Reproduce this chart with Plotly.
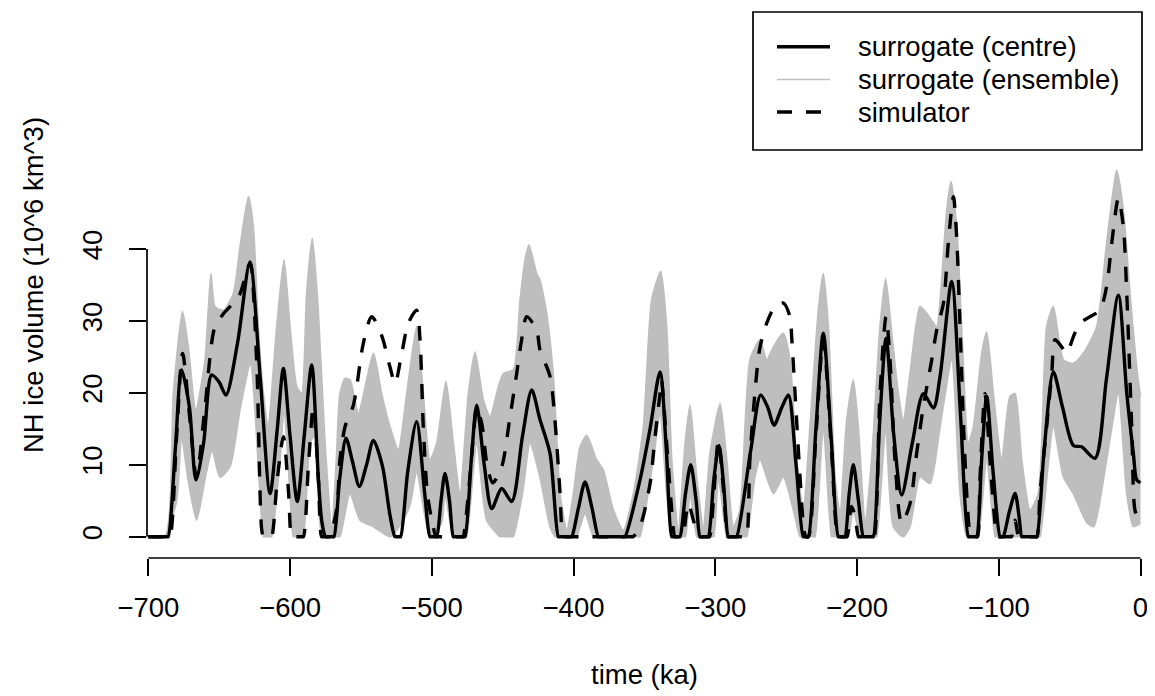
import plotly.graph_objects as go

# ---------------- data ----------------
# surrogate (centre): (time ka, NH ice volume)
centre_pts = [
    (-700, 0), (-699, 0), (-687, 0), (-686, 0), (-681, 12), (-676.5, 23.2), (-671, 18), (-666.4, 7.9),
    (-661, 13), (-655.3, 22.5), (-650, 21.5), (-645.2, 19.7), (-637, 27), (-628.3, 38.2), (-621, 22),
    (-614.1, 6.0), (-609, 15), (-604.7, 23.4), (-600, 14), (-594.9, 4.9), (-590, 14), (-584.7, 23.9),
    (-580, 8), (-577.5, 2), (-575, 0), (-574, 0), (-570, 0), (-569, 0), (-565, 8), (-560.5, 13.7),
    (-556, 10.5), (-551.1, 7.0), (-546, 10), (-541.2, 13.4), (-535, 10), (-529.5, 3), (-526, 0), (-525, 0),
    (-523, 0), (-522, 0), (-517, 9), (-510.7, 16.0), (-505, 6), (-501.3, 0), (-500.3, 0), (-497.5, 0),
    (-496.5, 0), (-493.5, 5), (-490.7, 8.8), (-487.5, 5), (-484.8, 0), (-483.8, 0), (-477.6, 0),
    (-476.6, 0), (-472, 11), (-468.3, 18.3), (-463, 10), (-457.7, 3.9), (-450.7, 6.7), (-443.6, 4.9),
    (-436, 14), (-429.5, 20.4), (-423.7, 16.3), (-416.6, 11.6), (-410.7, 0), (-409.7, 0), (-402.3, 0),
    (-401.3, 0), (-396.5, 4), (-391.9, 7.6), (-387, 4), (-382.5, 0), (-381.5, 0), (-364.7, 0), (-363.7, 0),
    (-353.1, 7.9), (-346, 15), (-339, 22.9), (-334.5, 12), (-330.7, 0), (-329.7, 0), (-325.9, 0),
    (-324.9, 0), (-321, 6), (-317.3, 10.0), (-313.5, 5), (-310.8, 0), (-309.8, 0), (-305.9, 0), (-304.9, 0),
    (-301, 8), (-297.4, 12.7), (-294, 7), (-290.8, 0), (-289.8, 0), (-285.9, 0), (-284.9, 0), (-275, 12),
    (-268, 19.7), (-263, 18), (-258.6, 15.5), (-253, 18), (-248.4, 19.7), (-243, 10), (-237.9, 0),
    (-236.9, 0), (-235.3, 0), (-234.3, 0), (-229, 15), (-223.8, 28.3), (-218, 13), (-213.2, 0), (-212.2, 0),
    (-209.5, 0), (-208.5, 0), (-205.5, 6), (-202.6, 10.0), (-199, 5), (-195.5, 0), (-194.5, 0), (-189.5, 0),
    (-188.5, 0), (-184, 16), (-179.5, 27.6), (-174, 14), (-168.5, 5.8), (-161, 13), (-153.2, 19.9),
    (-146.1, 17.9), (-141.4, 22.3), (-133.2, 35.5), (-127, 17), (-121.4, 0), (-120.4, 0), (-116.6, 0),
    (-115.6, 0), (-112, 11), (-108.5, 19.5), (-104, 9), (-99.1, 0), (-98.4, 0), (-97.5, 0), (-96.8, 0),
    (-92.5, 3.5), (-88.5, 6.0), (-85.5, 2.5), (-83.8, 0), (-82.8, 0), (-74.2, 0), (-73.2, 0), (-68, 12),
    (-61.5, 22.9), (-55, 18), (-47.4, 12.7), (-41.5, 12.5), (-32.1, 10.9), (-24, 22), (-15.6, 33.6),
    (-9.7, 20), (-5, 11.5), (-2.7, 7.9), (0, 7.5),
]

# simulator
sim_pts = [
    (-700, 0), (-699, 0), (-685.7, 0), (-684.7, 0), (-680, 14), (-675.8, 25.5), (-671, 17), (-666, 8.3),
    (-660, 18), (-653, 29.2), (-647, 31), (-640, 32.5), (-635.3, 33.8), (-629.4, 37.6), (-628, 38),
    (-623.5, 24.1), (-620, 1), (-618.8, 0), (-617.8, 0), (-614, 0), (-613, 0), (-609, 8), (-604.7, 13.9),
    (-601, 6), (-598.9, 0), (-597.9, 0), (-591.6, 0), (-590.6, 0), (-587, 10), (-583.6, 18.1), (-580, 8),
    (-577.7, 0), (-576.7, 0), (-573, 0), (-572, 0), (-567, 4), (-564.8, 10.7), (-561.2, 15.3),
    (-555.3, 18.3), (-548.3, 26.9), (-542.4, 30.6), (-535.4, 28.0), (-529.5, 23.6), (-525.9, 21.3),
    (-521.2, 25.5), (-516.5, 29.7), (-510.7, 31.5), (-508.3, 27.4), (-506, 15.3), (-503.1, 6.0),
    (-500, 2.3), (-497, 0), (-496, 0), (-479, 0), (-478, 0), (-474.2, 6.0), (-470.7, 13.9), (-468.3, 17.8),
    (-464.8, 15.8), (-461, 10), (-457, 7.5), (-450.7, 9.7), (-444.8, 16.7), (-440.1, 22.7), (-436.6, 27.4),
    (-433, 30.6), (-426, 28.7), (-423.7, 26), (-416.6, 22.3), (-413.1, 16.2), (-409.5, 6.0), (-407.7, 0.5),
    (-406, 0), (-405, 0), (-359, 0), (-358, 0), (-353.1, 1.4), (-346, 7.4), (-342.5, 13.9), (-339, 19.9),
    (-338, 21.8), (-334.3, 13), (-330.7, 3.7), (-328.5, 0), (-327.5, 0), (-324, 0), (-323, 0), (-319, 4.6),
    (-315, 2), (-311, 0), (-310, 0), (-305, 0), (-304, 0), (-301, 6), (-297.8, 13.4), (-294, 6), (-291, 0),
    (-290, 0), (-279, 0), (-278, 0), (-275.5, 11.1), (-270.8, 22.7), (-268.4, 26.4), (-263.7, 29.7),
    (-257.9, 32.0), (-252, 32.5), (-247.3, 30.6), (-246.1, 27.8), (-243.7, 19.9), (-240.2, 8.3),
    (-237.4, 0.9), (-236, 0), (-234.3, 0), (-229, 14), (-223.8, 27.4), (-218, 12), (-213.5, 0),
    (-212.5, 0), (-208, 0), (-207, 0), (-204, 4.2), (-201.5, 3), (-199, 0), (-198, 0), (-189, 0), (-188, 0),
    (-183.8, 19.9), (-179.5, 30.6), (-176.7, 24.6), (-173.2, 10.7), (-168.5, 1.9), (-162.6, 4.6),
    (-157.9, 11.6), (-153.2, 18.1), (-147.3, 24.6), (-143.8, 28.7), (-139, 32.5), (-135.6, 40.8),
    (-132, 47.3), (-129.7, 41.7), (-127.3, 29.2), (-123.8, 10.7), (-120.3, 0.5), (-119, 0), (-118, 0),
    (-116, 0), (-115, 0), (-113.2, 8.3), (-109.7, 19.9), (-106.2, 10.7), (-101.5, 0.5), (-100, 0), (-99, 0),
    (-92, 0), (-91, 0), (-88.5, 2.3), (-86, 0), (-85, 0), (-74, 0), (-73, 0), (-70.9, 6.0), (-66.2, 15.3),
    (-62.6, 22.7), (-60.3, 27.4), (-55.6, 26.4), (-52.1, 25.5), (-47.4, 27.8), (-42.7, 29.7), (-35.6, 30.6),
    (-28.6, 31.5), (-23.9, 34.8), (-20.3, 40.8), (-15.6, 47.1), (-12.1, 43.1), (-9.7, 33.8), (-6.2, 15.3),
    (-3.9, 3.7), (-1.5, 2.5), (0, 2.7),
]

# surrogate ensemble: upper and lower edges of the grey cloud
ens_upper_pts = [
    (-700, 0), (-688.2, 0), (-682.3, 19.9), (-675.8, 31.3), (-671.8, 26.4), (-666.5, 17.6), (-660, 24.6),
    (-655.8, 36.6), (-653, 32.0), (-647, 31.5), (-640, 33.8), (-635.3, 40.3), (-629.4, 47.3),
    (-625.9, 43.1), (-622.4, 29.2), (-618.8, 19.9), (-615.5, 15.5), (-609.4, 29.2), (-604.3, 38.5),
    (-600, 29.2), (-595.3, 20.9), (-591.8, 19.9), (-588.3, 33.8), (-584.3, 41.5), (-580.1, 31.5),
    (-575.3, 13.0), (-570.6, 1.4), (-567.5, 10), (-564.8, 19.9), (-561.2, 22.0), (-557.7, 21.8),
    (-551.8, 17.2), (-541.2, 25.5), (-535.4, 19.9), (-529.5, 15.3), (-523.6, 12.1), (-517.7, 19.9),
    (-510.7, 29.2), (-506, 19.9), (-501.3, 10.7), (-496.5, 13.0), (-490, 21.6), (-484.8, 13.0),
    (-480.1, 6.0), (-474.2, 19.9), (-469.5, 25.7), (-463.6, 19.0), (-458.9, 16.7), (-453, 20.9),
    (-449.5, 22.7), (-442.5, 23.2), (-437.7, 32.9), (-434.2, 38.5), (-431.4, 40.6), (-426, 36.6),
    (-423.7, 35.7), (-419, 31.1), (-414.2, 22.3), (-409.5, 6.0), (-404.8, 0.9), (-400.1, 6.0),
    (-395.4, 12.5), (-390.7, 14.1), (-383.7, 10.7), (-379, 9.3), (-371.9, 3.7), (-364.9, 0.9),
    (-357.8, 6.0), (-350.7, 15.3), (-344.9, 32.9), (-338.5, 36.9), (-334.3, 29.2), (-330.7, 10.7),
    (-326.1, 0.9), (-321.3, 13.0), (-317.8, 18.3), (-313.1, 8.3), (-308.4, 1.4), (-303.7, 11.6),
    (-296.6, 18.5), (-291.9, 10.7), (-287.2, 1.4), (-282.6, 3.7), (-275.5, 24.6), (-268.4, 27.4),
    (-263.7, 24.6), (-259, 26.4), (-252, 28.3), (-247.3, 24.6), (-242.6, 10.7), (-237.9, 3.7),
    (-233.2, 15.3), (-227.3, 31.5), (-223.8, 36.6), (-220.2, 29.2), (-215.5, 8.3), (-212, 3.2),
    (-207.3, 16.2), (-202.6, 21.8), (-199.1, 15.3), (-194.3, 2.3), (-189.7, 10.7), (-183.8, 29.2),
    (-179.8, 35.9), (-175.5, 28.3), (-170.8, 19.9), (-167.3, 16.2), (-162.6, 22.7), (-155.6, 32.0),
    (-150.9, 31.1), (-143.8, 29.2), (-141.4, 32.9), (-136.7, 45.4), (-133.7, 49.4), (-129.7, 43.1),
    (-126.2, 29.2), (-121.4, 13.0), (-117.9, 15.3), (-112, 25.5), (-108.5, 28.5), (-103.8, 19.9),
    (-97.9, 10.7), (-92.1, 19.5), (-88.5, 19.9), (-83.8, 10.7), (-77.9, 3.7), (-72.1, 6.0), (-66.2, 29.2),
    (-61.5, 32.0), (-54.4, 24.6), (-47.4, 24.1), (-40.3, 25.5), (-30.9, 29.2), (-23.9, 40.8),
    (-16.8, 51.0), (-12.1, 45.4), (-7.4, 33.8), (-2.7, 23.6), (0, 19.5),
]
ens_lower_pts = [
    (-700, 0), (-699, 0), (-689, 0), (-688, 0), (-680, 5), (-676.5, 14), (-672, 8), (-665.9, 2.3),
    (-660, 8), (-655, 12), (-649.4, 8.3), (-642.4, 9.7), (-635, 18), (-628, 24), (-621.2, 6.0),
    (-618.8, 0), (-617.8, 0), (-614, 0), (-613, 0), (-607.1, 10.7), (-604.3, 17.6), (-600, 6.0),
    (-597.7, 0), (-596.7, 0), (-591.6, 0), (-590.6, 0), (-585.9, 13.0), (-583, 14), (-580.1, 6.0),
    (-577.7, 0), (-576.7, 0), (-565.8, 0), (-564.8, 0), (-557.7, 6.0), (-550.6, 2.3), (-541.2, 1.4),
    (-529, 0), (-516, 4), (-510.7, 9), (-505, 3), (-501.3, 0), (-493, 2), (-490.7, 6.0), (-487, 2),
    (-483.6, 0), (-482.6, 0), (-476.4, 0), (-475.4, 0), (-468.3, 13.0), (-461.3, 2.3), (-451.9, 0),
    (-450.9, 0), (-443.5, 0), (-442.5, 0), (-436, 6), (-430.7, 13.0), (-423.7, 8.3), (-416.6, 1.4),
    (-413, 0), (-412, 0), (-398.8, 0), (-397.8, 0), (-391.9, 3.2), (-386, 0), (-385, 0), (-354.1, 0),
    (-353.1, 0), (-343.7, 10.7), (-339, 17.2), (-334.3, 6.0), (-330.5, 0), (-329.5, 0), (-322, 0),
    (-321, 0), (-317.8, 6.0), (-313, 0), (-312, 0), (-302, 0), (-301, 0), (-297.8, 8.3), (-292, 0),
    (-291, 0), (-278.8, 0), (-277.8, 0), (-272, 8.3), (-268.4, 10.7), (-259, 6.0), (-252, 8.3),
    (-244.9, 3.7), (-240.2, 0), (-239.2, 0), (-230.6, 0), (-229.6, 0), (-223.8, 15.3), (-217.9, 0),
    (-216.9, 0), (-207.1, 0), (-206.1, 0), (-202.6, 3.7), (-197.9, 0), (-196.9, 0), (-187.1, 0),
    (-186.1, 0), (-179.8, 15.3), (-174.4, 1.4), (-167.3, 0), (-162.6, 1.4), (-155.6, 8.3), (-148.5, 7.4),
    (-141.4, 15.3), (-133.2, 24.6), (-127.3, 6.0), (-122.6, 0), (-121.6, 0), (-115.4, 0), (-114.4, 0),
    (-108.5, 10.7), (-102.6, 0), (-101.6, 0), (-71.9, 0), (-70.9, 0), (-61.5, 15.3), (-54.4, 8.3),
    (-47.4, 6.0), (-38, 2), (-33, 1.4), (-23.9, 10.7), (-15.6, 19.9), (-9.7, 6.0), (-5, 1.4), (0, 1.9),
]

centre_t = [p[0] for p in centre_pts]
centre_v = [p[1] for p in centre_pts]
sim_t = [p[0] for p in sim_pts]
sim_v = [p[1] for p in sim_pts]
ens_upper_t = [p[0] for p in ens_upper_pts]
ens_upper_v = [p[1] for p in ens_upper_pts]
ens_lower_t = [p[0] for p in ens_lower_pts]
ens_lower_v = [p[1] for p in ens_lower_pts]

x_tick_vals = [-700, -600, -500, -400, -300, -200, -100, 0]
x_tick_text = ["\u2212700", "\u2212600", "\u2212500", "\u2212400", "\u2212300", "\u2212200", "\u2212100", "0"]
y_tick_vals = [0, 10, 20, 30, 40]
y_tick_text = ["0", "10", "20", "30", "40"]

legend_labels = ["surrogate (centre)", "surrogate (ensemble)", "simulator"]
x_title = "time (ka)"
y_title = "NH ice volume (10^6 km^3)"

# ---------------- geometry (reference-image pixels) ----------------
OFF = 8                      # the page body has an 8px default margin
W, H = 1155 - OFF, 696 - OFF
L, R, T, B = 147, 1142, 12, 558   # plot region edges in reference px
FONT = dict(family="Liberation Sans, Arial, Helvetica, sans-serif", size=27.5, color="black")
GRAY = "#BEBEBE"
LW_THICK, LW_THIN = 3.4, 1.7
DASH = "15px,14px"


def px_x(p):
    return (p - L) / (R - L)


def px_y(p):
    return (B - p) / (B - T)


fig = go.Figure()

# ensemble cloud: lower edge, then upper edge filled down to it
fig.add_trace(go.Scatter(x=ens_lower_t, y=ens_lower_v, mode="lines",
                         line=dict(color=GRAY, width=LW_THIN, shape="spline", smoothing=0.6),
                         name=legend_labels[1], showlegend=False, hoverinfo="skip"))
fig.add_trace(go.Scatter(x=ens_upper_t, y=ens_upper_v, mode="lines", fill="tonexty", fillcolor=GRAY,
                         line=dict(color=GRAY, width=LW_THIN, shape="spline", smoothing=0.6),
                         name=legend_labels[1], showlegend=False, hoverinfo="skip"))

fig.add_trace(go.Scatter(x=centre_t, y=centre_v, mode="lines", name=legend_labels[0],
                         line=dict(color="black", width=LW_THICK, shape="spline", smoothing=0.8),
                         showlegend=False))
fig.add_trace(go.Scatter(x=sim_t, y=sim_v, mode="lines", name=legend_labels[2],
                         line=dict(color="black", width=LW_THICK, dash=DASH, shape="spline", smoothing=0.8),
                         showlegend=False))

shapes = []
# R-style axis lines spanning only the tick range
shapes.append(dict(type="line", xref="x", yref="paper", x0=x_tick_vals[0], x1=x_tick_vals[-1], y0=0, y1=0,
                   line=dict(color="black", width=LW_THIN)))
shapes.append(dict(type="line", xref="paper", yref="y", x0=0, x1=0, y0=y_tick_vals[0], y1=y_tick_vals[-1],
                   line=dict(color="black", width=LW_THIN)))

# legend box (top right of the plot region)
lx0, ly0, lx1, ly1 = 753, 12, 1142, 150
shapes.append(dict(type="rect", xref="paper", yref="paper", x0=px_x(lx0), x1=px_x(lx1), y0=px_y(ly1),
                   y1=px_y(ly0), line=dict(color="black", width=LW_THIN), fillcolor="white", layer="above"))
row_y = [46.7, 79.5, 112]
sample_x0, sample_x1, text_x = 777, 830, 856
styles = [dict(color="black", width=LW_THICK), dict(color=GRAY, width=LW_THIN),
          dict(color="black", width=LW_THICK, dash=DASH)]
annotations = []
for lab, ry, st in zip(legend_labels, row_y, styles):
    shapes.append(dict(type="line", xref="paper", yref="paper", x0=px_x(sample_x0), x1=px_x(sample_x1),
                       y0=px_y(ry), y1=px_y(ry), line=st, layer="above"))
    annotations.append(dict(text=lab, xref="paper", yref="paper", x=px_x(text_x), y=px_y(ry),
                            xanchor="left", yanchor="middle", showarrow=False, font=FONT))

# axis titles (R: xlab/ylab on margin line 3)
annotations.append(dict(text=x_title, xref="paper", yref="paper", x=0.5, y=px_y(674),
                        xanchor="center", yanchor="middle", showarrow=False, font=FONT))
annotations.append(dict(text=y_title, xref="paper", yref="paper", x=px_x(33), y=0.5, textangle=-90,
                        xanchor="center", yanchor="middle", showarrow=False, font=FONT))

# data ranges so -700..0 and 0..40 land where the reference has them
x_per_px = 700 / (1140.5 - 148.3)
y_per_px = 10 / 71.9
x_lo = -700 - (148.3 - L) * x_per_px
x_hi = 0 + (R - 1140.5) * x_per_px
y_lo = -(B - 536.7) * y_per_px
y_hi = (536.7 - T) * y_per_px

fig.update_layout(
    width=W, height=H,
    margin=dict(l=L - OFF, r=1155 - R, t=T - OFF, b=696 - B, pad=0, autoexpand=False),
    paper_bgcolor="white", plot_bgcolor="white",
    font=FONT,
    showlegend=False,
    shapes=shapes,
    annotations=annotations,
    xaxis=dict(range=[x_lo, x_hi], tickmode="array", tickvals=x_tick_vals, ticktext=x_tick_text,
               ticks="outside", ticklen=17, tickwidth=LW_THIN, tickcolor="black", showgrid=False,
               zeroline=False, showline=False, tickfont=FONT, ticklabelstandoff=8),
    yaxis=dict(range=[y_lo, y_hi], tickmode="array", tickvals=y_tick_vals, ticktext=y_tick_text,
               ticks="outside", ticklen=17, tickwidth=LW_THIN, tickcolor="black", showgrid=False,
               zeroline=False, showline=False, tickfont=FONT, tickangle=-90, ticklabelstandoff=16),
)

fig.write_html("out.html")
